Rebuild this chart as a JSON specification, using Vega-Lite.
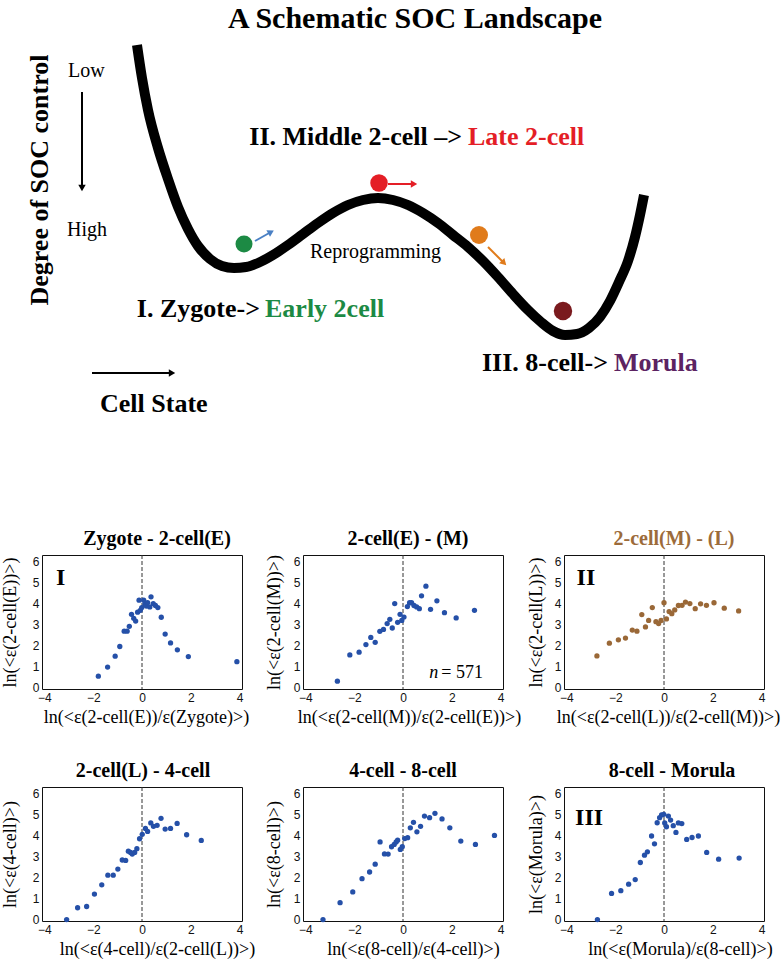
{
  "$schema": "https://vega.github.io/schema/vega-lite/v6.json",
  "padding": 0,
  "background": "white",
  "spacing": 33,
  "config": {
    "view": {"stroke": "#111", "strokeWidth": 1},
    "title": {"font": "Liberation Serif", "fontSize": 20, "fontWeight": "bold", "color": "#000", "baseline": "bottom", "offset": 6, "anchor": "middle"},
    "axis": {"grid": false, "domain": false, "ticks": false, "labelPadding": 3, "labelFont": "Liberation Sans", "labelFontSize": 12, "labelColor": "#111", "titleFont": "Liberation Serif", "titleFontSize": 18, "titleFontWeight": "normal", "titleColor": "#000", "labelFlush": false, "labelOverlap": false},
    "axisX": {"titlePadding": 5},
    "axisY": {"titlePadding": 10, "labelOverlap": false}
  },
  "datasets": {
    "p1": [{"x":-1.79,"y":0.54},{"x":-1.41,"y":0.97},{"x":-1.10,"y":1.49},{"x":-0.91,"y":1.95},{"x":-0.73,"y":2.68},{"x":-0.61,"y":2.68},{"x":-0.52,"y":2.91},{"x":-0.43,"y":3.48},{"x":-0.34,"y":3.29},{"x":-0.26,"y":3.16},{"x":-0.18,"y":3.58},{"x":-0.12,"y":4.15},{"x":-0.07,"y":3.67},{"x":-0.01,"y":3.80},{"x":0.07,"y":4.15},{"x":0.12,"y":3.96},{"x":0.18,"y":3.87},{"x":0.23,"y":4.04},{"x":0.32,"y":3.83},{"x":0.37,"y":4.31},{"x":0.46,"y":3.99},{"x":0.55,"y":3.90},{"x":0.65,"y":3.80},{"x":0.79,"y":3.34},{"x":0.95,"y":2.54},{"x":1.17,"y":2.12},{"x":1.45,"y":1.79},{"x":1.90,"y":1.47},{"x":3.89,"y":1.23}],
    "p2": [{"x":-2.69,"y":0.30},{"x":-2.18,"y":1.55},{"x":-1.80,"y":1.68},{"x":-1.52,"y":2.04},{"x":-1.32,"y":2.38},{"x":-1.14,"y":2.15},{"x":-0.95,"y":2.67},{"x":-0.80,"y":2.76},{"x":-0.65,"y":3.04},{"x":-0.54,"y":3.24},{"x":-0.44,"y":2.83},{"x":-0.34,"y":3.99},{"x":-0.22,"y":3.10},{"x":-0.12,"y":3.48},{"x":-0.05,"y":3.19},{"x":0.04,"y":3.35},{"x":0.18,"y":3.85},{"x":0.27,"y":4.03},{"x":0.35,"y":4.03},{"x":0.45,"y":3.90},{"x":0.56,"y":3.83},{"x":0.67,"y":3.75},{"x":0.76,"y":4.36},{"x":0.94,"y":4.82},{"x":1.13,"y":3.72},{"x":1.39,"y":4.12},{"x":1.70,"y":3.56},{"x":2.18,"y":3.31},{"x":2.93,"y":3.67}],
    "p3": [{"x":-2.75,"y":1.50},{"x":-2.24,"y":2.11},{"x":-1.87,"y":2.27},{"x":-1.58,"y":2.35},{"x":-1.30,"y":2.73},{"x":-1.11,"y":2.68},{"x":-0.91,"y":3.47},{"x":-0.76,"y":2.88},{"x":-0.63,"y":3.19},{"x":-0.48,"y":3.80},{"x":-0.33,"y":3.13},{"x":-0.22,"y":3.04},{"x":-0.12,"y":3.19},{"x":0.00,"y":4.03},{"x":0.10,"y":3.26},{"x":0.21,"y":3.61},{"x":0.32,"y":3.51},{"x":0.44,"y":3.69},{"x":0.59,"y":3.90},{"x":0.74,"y":3.91},{"x":0.88,"y":4.06},{"x":1.06,"y":3.99},{"x":1.28,"y":3.75},{"x":1.50,"y":3.98},{"x":1.74,"y":3.91},{"x":2.05,"y":4.03},{"x":2.47,"y":3.77},{"x":3.06,"y":3.64}],
    "p4": [{"x":-3.09,"y":0.0},{"x":-2.64,"y":0.56},{"x":-2.27,"y":0.62},{"x":-1.95,"y":1.21},{"x":-1.65,"y":1.65},{"x":-1.40,"y":2.11},{"x":-1.18,"y":2.11},{"x":-0.99,"y":2.40},{"x":-0.81,"y":2.83},{"x":-0.67,"y":2.81},{"x":-0.56,"y":3.25},{"x":-0.47,"y":3.19},{"x":-0.40,"y":3.11},{"x":-0.30,"y":3.19},{"x":-0.21,"y":3.37},{"x":-0.10,"y":3.84},{"x":0.01,"y":4.05},{"x":0.14,"y":4.33},{"x":0.23,"y":4.19},{"x":0.36,"y":4.59},{"x":0.47,"y":4.43},{"x":0.62,"y":4.48},{"x":0.78,"y":4.81},{"x":0.95,"y":4.30},{"x":1.17,"y":4.33},{"x":1.44,"y":4.57},{"x":1.83,"y":4.03},{"x":2.43,"y":3.76}],
    "p5": [{"x":-3.28,"y":0.0},{"x":-2.58,"y":0.80},{"x":-2.06,"y":1.31},{"x":-1.68,"y":1.94},{"x":-1.37,"y":2.26},{"x":-1.14,"y":2.63},{"x":-0.94,"y":3.69},{"x":-0.76,"y":3.12},{"x":-0.61,"y":3.11},{"x":-0.47,"y":3.46},{"x":-0.36,"y":3.57},{"x":-0.28,"y":3.69},{"x":-0.22,"y":3.77},{"x":-0.11,"y":3.33},{"x":-0.03,"y":3.46},{"x":0.07,"y":3.85},{"x":0.19,"y":3.89},{"x":0.30,"y":4.36},{"x":0.43,"y":4.62},{"x":0.57,"y":4.17},{"x":0.72,"y":4.43},{"x":0.88,"y":4.92},{"x":1.09,"y":4.84},{"x":1.31,"y":5.05},{"x":1.60,"y":4.78},{"x":1.92,"y":4.36},{"x":2.37,"y":3.73},{"x":2.97,"y":3.57},{"x":3.75,"y":4.00}],
    "p6": [{"x":-2.73,"y":0.0},{"x":-2.15,"y":1.24},{"x":-1.77,"y":1.37},{"x":-1.45,"y":1.68},{"x":-1.18,"y":1.90},{"x":-0.97,"y":2.71},{"x":-0.80,"y":3.06},{"x":-0.68,"y":3.22},{"x":-0.51,"y":3.97},{"x":-0.39,"y":3.60},{"x":-0.28,"y":4.60},{"x":-0.18,"y":4.84},{"x":-0.10,"y":4.97},{"x":-0.01,"y":5.00},{"x":0.03,"y":4.59},{"x":0.10,"y":4.41},{"x":0.18,"y":4.92},{"x":0.27,"y":4.73},{"x":0.38,"y":4.46},{"x":0.49,"y":4.14},{"x":0.59,"y":4.59},{"x":0.73,"y":4.56},{"x":0.93,"y":3.81},{"x":1.15,"y":3.90},{"x":1.41,"y":3.97},{"x":1.75,"y":3.19},{"x":2.24,"y":2.87},{"x":3.08,"y":2.92}]
  },
  "vconcat": [
    {
      "width": 739,
      "height": 495,
      "view": {"stroke": null},
      "resolve": {"scale": {"color": "independent", "size": "independent"}},
      "encoding": {
        "x": {"field": "x", "type": "quantitative", "scale": {"domain": [44, 783], "nice": false, "zero": false}, "axis": null},
        "y": {"field": "y", "type": "quantitative", "scale": {"domain": [0, 495], "reverse": true, "nice": false, "zero": false}, "axis": null}
      },
      "layer": [
        {
          "data": {"values": [{"x":139,"y":45},{"x":144,"y":78},{"x":150,"y":110},{"x":160,"y":148},{"x":170,"y":179},{"x":180,"y":207},{"x":190,"y":229},{"x":200,"y":246},{"x":212,"y":259},{"x":224,"y":266},{"x":236,"y":268},{"x":248,"y":267},{"x":260,"y":263},{"x":275,"y":255},{"x":290,"y":245},{"x":305,"y":234},{"x":320,"y":223},{"x":335,"y":213},{"x":350,"y":205},{"x":365,"y":200},{"x":380,"y":198},{"x":395,"y":200},{"x":410,"y":205},{"x":425,"y":213},{"x":440,"y":223},{"x":455,"y":235},{"x":470,"y":247},{"x":485,"y":261},{"x":500,"y":277},{"x":515,"y":294},{"x":530,"y":310},{"x":543,"y":322},{"x":555,"y":331},{"x":567,"y":335},{"x":579,"y":334},{"x":591,"y":328},{"x":602,"y":317},{"x":612,"y":301},{"x":621,"y":282},{"x":630,"y":261},{"x":637,"y":237},{"x":642,"y":215},{"x":646,"y":195}]},
          "mark": {"type": "line", "color": "#000", "strokeWidth": 10, "strokeCap": "butt", "strokeJoin": "round", "interpolate": "monotone"}
        },
        {
          "data": {"values": [{"stage":"Early 2-cell","x":246,"y":244},{"stage":"Late 2-cell","x":381,"y":183},{"stage":"4-cell","x":481,"y":235},{"stage":"Morula","x":565,"y":311}]},
          "mark": {"type": "circle", "opacity": 1},
          "encoding": {
            "color": {"field": "stage", "type": "nominal", "scale": {"domain": ["Early 2-cell","Late 2-cell","4-cell","Morula"], "range": ["#1c8a44","#e41e26","#e07b1b","#7a1a1e"]}, "legend": null},
            "size": {"field": "stage", "type": "nominal", "scale": {"domain": ["Early 2-cell","Late 2-cell","4-cell","Morula"], "range": [290, 340, 330, 280]}, "legend": null}
          }
        },
        {
          "data": {"values": [{"arrow":"I","x":257,"y":241,"x2":273,"y2":232},{"arrow":"II","x":390,"y":184,"x2":416,"y2":184},{"arrow":"II-III","x":490,"y":247,"x2":506,"y2":263},{"arrow":"control","x":84,"y":92,"x2":84,"y2":188},{"arrow":"state","x":94,"y":373,"x2":174,"y2":373}]},
          "mark": {"type": "rule", "strokeWidth": 2},
          "encoding": {
            "x2": {"field": "x2"},
            "y2": {"field": "y2"},
            "color": {"field": "arrow", "type": "nominal", "scale": {"domain": ["I","II","II-III","control","state"], "range": ["#4a80c4","#e41e26","#e07b1b","#000","#000"]}, "legend": null}
          }
        },
        {
          "data": {"values": [{"arrow":"I","x":257,"y":241,"x2":273,"y2":232},{"arrow":"II","x":390,"y":184,"x2":416,"y2":184},{"arrow":"II-III","x":490,"y":247,"x2":506,"y2":263},{"arrow":"control","x":84,"y":92,"x2":84,"y2":188},{"arrow":"state","x":94,"y":373,"x2":174,"y2":373}]},
          "transform": [{"calculate": "atan2(datum.y2 - datum.y, datum.x2 - datum.x) * 180 / PI", "as": "heading"}],
          "mark": {"type": "point", "shape": "triangle-right", "filled": true, "opacity": 1, "size": 55},
          "encoding": {
            "x": {"field": "x2", "type": "quantitative", "scale": {"domain": [44, 783], "nice": false, "zero": false}, "axis": null},
            "y": {"field": "y2", "type": "quantitative", "scale": {"domain": [0, 495], "reverse": true, "nice": false, "zero": false}, "axis": null},
            "angle": {"field": "heading", "type": "quantitative", "scale": null},
            "color": {"field": "arrow", "type": "nominal", "scale": {"domain": ["I","II","II-III","control","state"], "range": ["#4a80c4","#e41e26","#e07b1b","#000","#000"]}, "legend": null}
          }
        },
        {
          "data": {"values": [{"label":"A Schematic SOC Landscape","x":417,"y":19}]},
          "mark": {"type": "text", "font": "Liberation Serif", "fontWeight": "bold", "fontSize": 30, "align": "center", "baseline": "middle", "color": "#000"},
          "encoding": {"text": {"field": "label"}}
        },
        {
          "data": {"values": [{"label":"Degree of SOC control","x":42,"y":180}]},
          "mark": {"type": "text", "font": "Liberation Serif", "fontWeight": "bold", "fontSize": 26, "align": "center", "baseline": "middle", "angle": 270, "color": "#000"},
          "encoding": {"text": {"field": "label"}}
        },
        {
          "data": {"values": [{"label":"Low","x":70,"y":71},{"label":"High","x":69,"y":230},{"label":"Reprogramming","x":312,"y":252}]},
          "mark": {"type": "text", "font": "Liberation Serif", "fontSize": 20, "align": "left", "baseline": "middle", "color": "#000"},
          "encoding": {"text": {"field": "label"}}
        },
        {
          "data": {"values": [{"label":"II. Middle 2-cell –>","x":464,"y":137},{"label":"I. Zygote->","x":262,"y":309},{"label":"III. 8-cell->","x":610,"y":363}]},
          "mark": {"type": "text", "font": "Liberation Serif", "fontWeight": "bold", "fontSize": 26, "align": "right", "baseline": "middle", "color": "#000"},
          "encoding": {"text": {"field": "label"}}
        },
        {
          "data": {"values": [{"label":"Late 2-cell","phase":"II","x":470,"y":137},{"label":"Early 2cell","phase":"I","x":267,"y":309},{"label":"Morula","phase":"III","x":616,"y":363}]},
          "mark": {"type": "text", "font": "Liberation Serif", "fontWeight": "bold", "fontSize": 26, "align": "left", "baseline": "middle"},
          "encoding": {
            "text": {"field": "label"},
            "color": {"field": "phase", "type": "nominal", "scale": {"domain": ["I","II","III"], "range": ["#1c8a44","#e41e26","#5c2362"]}, "legend": null}
          }
        },
        {
          "data": {"values": [{"label":"Cell State","x":102,"y":404}]},
          "mark": {"type": "text", "font": "Liberation Serif", "fontWeight": "bold", "fontSize": 26, "align": "left", "baseline": "middle", "color": "#000"},
          "encoding": {"text": {"field": "label"}}
        }
      ]
    },
    {
      "bounds": "flush",
      "spacing": 61,
      "hconcat": [
        {
          "width": 200, "height": 134,
          "title": {"text": "Zygote - 2-cell(E)", "dx": 15},
          "layer": [
            {"data": {"values": [{"x": 0}]}, "mark": {"type": "rule", "strokeDash": [4, 2], "color": "#333", "strokeWidth": 1},
             "encoding": {"x": {"field": "x", "type": "quantitative", "scale": {"domain": [-4.1, 4.1], "nice": false, "zero": false}, "title": "ln(<ε(2-cell(E))/ε(Zygote)>)", "axis": {"values": [-4, -2, 0, 2, 4], "titleX": 104}}}},
            {"data": {"name": "p1"}, "mark": {"type": "circle", "size": 28, "color": "#2550a8", "opacity": 1},
             "encoding": {"x": {"field": "x", "type": "quantitative", "scale": {"domain": [-4.1, 4.1], "nice": false, "zero": false}, "title": "ln(<ε(2-cell(E))/ε(Zygote)>)", "axis": {"values": [-4, -2, 0, 2, 4], "titleX": 104}},
                          "y": {"field": "y", "type": "quantitative", "scale": {"domain": [-0.07, 6.3], "nice": false, "zero": false}, "title": "ln(<ε(2-cell(E))>)", "axis": {"values": [0, 1, 2, 3, 4, 5, 6], "labelOverlap": false, "titlePadding": 13}}}},
            {"data": {"values": [{"x": -3.33, "y": 5.21, "label": "I"}]}, "mark": {"type": "text", "font": "Liberation Serif", "fontWeight": "bold", "fontSize": 24, "color": "#000", "baseline": "middle"},
             "encoding": {"x": {"field": "x", "type": "quantitative", "title": "ln(<ε(2-cell(E))/ε(Zygote)>)", "axis": {"values": [-4, -2, 0, 2, 4], "titleX": 104}}, "y": {"field": "y", "type": "quantitative", "title": "ln(<ε(2-cell(E))>)", "axis": {"values": [0, 1, 2, 3, 4, 5, 6], "labelOverlap": false, "titlePadding": 13}}, "text": {"field": "label"}}}
          ]
        },
        {
          "width": 200, "height": 134,
          "title": {"text": "2-cell(E) - (M)", "dx": 5},
          "layer": [
            {"data": {"values": [{"x": 0}]}, "mark": {"type": "rule", "strokeDash": [4, 2], "color": "#333", "strokeWidth": 1},
             "encoding": {"x": {"field": "x", "type": "quantitative", "scale": {"domain": [-4.1, 4.1], "nice": false, "zero": false}, "title": "ln(<ε(2-cell(M))/ε(2-cell(E))>)", "axis": {"values": [-4, -2, 0, 2, 4], "titleX": 106}}}},
            {"data": {"name": "p2"}, "mark": {"type": "circle", "size": 28, "color": "#2550a8", "opacity": 1},
             "encoding": {"x": {"field": "x", "type": "quantitative", "scale": {"domain": [-4.1, 4.1], "nice": false, "zero": false}, "title": "ln(<ε(2-cell(M))/ε(2-cell(E))>)", "axis": {"values": [-4, -2, 0, 2, 4], "titleX": 106}},
                          "y": {"field": "y", "type": "quantitative", "scale": {"domain": [-0.07, 6.3], "nice": false, "zero": false}, "title": "ln(<ε(2-cell(M))>)", "axis": {"values": [0, 1, 2, 3, 4, 5, 6], "labelOverlap": false, "titlePadding": 10}}}},
            {"data": {"values": [{"x": 1.45, "y": 0.7, "label": "n"}]}, "mark": {"type": "text", "font": "Liberation Serif", "fontStyle": "italic", "fontSize": 18, "color": "#000", "align": "right", "baseline": "middle"},
             "encoding": {"x": {"field": "x", "type": "quantitative", "title": "ln(<ε(2-cell(M))/ε(2-cell(E))>)", "axis": {"values": [-4, -2, 0, 2, 4], "titleX": 106}}, "y": {"field": "y", "type": "quantitative", "title": "ln(<ε(2-cell(M))>)", "axis": {"values": [0, 1, 2, 3, 4, 5, 6], "labelOverlap": false, "titlePadding": 10}}, "text": {"field": "label"}}},
            {"data": {"values": [{"x": 1.57, "y": 0.7, "label": "= 571"}]}, "mark": {"type": "text", "font": "Liberation Serif", "fontSize": 18, "color": "#000", "align": "left", "baseline": "middle"},
             "encoding": {"x": {"field": "x", "type": "quantitative", "title": "ln(<ε(2-cell(M))/ε(2-cell(E))>)", "axis": {"values": [-4, -2, 0, 2, 4], "titleX": 106}}, "y": {"field": "y", "type": "quantitative", "title": "ln(<ε(2-cell(M))>)", "axis": {"values": [0, 1, 2, 3, 4, 5, 6], "labelOverlap": false, "titlePadding": 10}}, "text": {"field": "label"}}}
          ]
        },
        {
          "width": 200, "height": 134,
          "title": {"text": "2-cell(M) - (L)", "dx": 10, "color": "#9c6b3a"},
          "layer": [
            {"data": {"values": [{"x": 0}]}, "mark": {"type": "rule", "strokeDash": [4, 2], "color": "#333", "strokeWidth": 1},
             "encoding": {"x": {"field": "x", "type": "quantitative", "scale": {"domain": [-4.1, 4.1], "nice": false, "zero": false}, "title": "ln(<ε(2-cell(L))/ε(2-cell(M))>)", "axis": {"values": [-4, -2, 0, 2, 4], "titleX": 104}}}},
            {"data": {"name": "p3"}, "mark": {"type": "circle", "size": 28, "color": "#9a6837", "opacity": 1},
             "encoding": {"x": {"field": "x", "type": "quantitative", "scale": {"domain": [-4.1, 4.1], "nice": false, "zero": false}, "title": "ln(<ε(2-cell(L))/ε(2-cell(M))>)", "axis": {"values": [-4, -2, 0, 2, 4], "titleX": 104}},
                          "y": {"field": "y", "type": "quantitative", "scale": {"domain": [-0.07, 6.3], "nice": false, "zero": false}, "title": "ln(<ε(2-cell(L))>)", "axis": {"values": [0, 1, 2, 3, 4, 5, 6], "labelOverlap": false, "titlePadding": 9}}}},
            {"data": {"values": [{"x": -3.2, "y": 5.21, "label": "II"}]}, "mark": {"type": "text", "font": "Liberation Serif", "fontWeight": "bold", "fontSize": 24, "color": "#000", "baseline": "middle"},
             "encoding": {"x": {"field": "x", "type": "quantitative", "title": "ln(<ε(2-cell(L))/ε(2-cell(M))>)", "axis": {"values": [-4, -2, 0, 2, 4], "titleX": 104}}, "y": {"field": "y", "type": "quantitative", "title": "ln(<ε(2-cell(L))>)", "axis": {"values": [0, 1, 2, 3, 4, 5, 6], "labelOverlap": false, "titlePadding": 9}}, "text": {"field": "label"}}}
          ]
        }
      ]
    },
    {
      "bounds": "flush",
      "spacing": 61,
      "hconcat": [
        {
          "width": 200, "height": 134,
          "title": {"text": "2-cell(L) - 4-cell", "dx": 1},
          "layer": [
            {"data": {"values": [{"x": 0}]}, "mark": {"type": "rule", "strokeDash": [4, 2], "color": "#333", "strokeWidth": 1},
             "encoding": {"x": {"field": "x", "type": "quantitative", "scale": {"domain": [-4.1, 4.1], "nice": false, "zero": false}, "title": "ln(<ε(4-cell)/ε(2-cell(L))>)", "axis": {"values": [-4, -2, 0, 2, 4], "titleX": 115}}}},
            {"data": {"name": "p4"}, "mark": {"type": "circle", "size": 28, "color": "#2550a8", "opacity": 1},
             "encoding": {"x": {"field": "x", "type": "quantitative", "scale": {"domain": [-4.1, 4.1], "nice": false, "zero": false}, "title": "ln(<ε(4-cell)/ε(2-cell(L))>)", "axis": {"values": [-4, -2, 0, 2, 4], "titleX": 115}},
                          "y": {"field": "y", "type": "quantitative", "scale": {"domain": [-0.07, 6.3], "nice": false, "zero": false}, "title": "ln(<ε(4-cell)>)", "axis": {"values": [0, 1, 2, 3, 4, 5, 6], "labelOverlap": false, "titlePadding": 13}}}}
          ]
        },
        {
          "width": 200, "height": 134,
          "title": {"text": "4-cell - 8-cell", "dx": 0},
          "layer": [
            {"data": {"values": [{"x": 0}]}, "mark": {"type": "rule", "strokeDash": [4, 2], "color": "#333", "strokeWidth": 1},
             "encoding": {"x": {"field": "x", "type": "quantitative", "scale": {"domain": [-4.1, 4.1], "nice": false, "zero": false}, "title": "ln(<ε(8-cell)/ε(4-cell)>)", "axis": {"values": [-4, -2, 0, 2, 4], "titleX": 110}}}},
            {"data": {"name": "p5"}, "mark": {"type": "circle", "size": 28, "color": "#2550a8", "opacity": 1},
             "encoding": {"x": {"field": "x", "type": "quantitative", "scale": {"domain": [-4.1, 4.1], "nice": false, "zero": false}, "title": "ln(<ε(8-cell)/ε(4-cell)>)", "axis": {"values": [-4, -2, 0, 2, 4], "titleX": 110}},
                          "y": {"field": "y", "type": "quantitative", "scale": {"domain": [-0.07, 6.3], "nice": false, "zero": false}, "title": "ln(<ε(8-cell)>)", "axis": {"values": [0, 1, 2, 3, 4, 5, 6], "labelOverlap": false, "titlePadding": 10}}}}
          ]
        },
        {
          "width": 200, "height": 134,
          "title": {"text": "8-cell - Morula", "dx": 8},
          "layer": [
            {"data": {"values": [{"x": 0}]}, "mark": {"type": "rule", "strokeDash": [4, 2], "color": "#333", "strokeWidth": 1},
             "encoding": {"x": {"field": "x", "type": "quantitative", "scale": {"domain": [-4.1, 4.1], "nice": false, "zero": false}, "title": "ln(<ε(Morula)/ε(8-cell)>)", "axis": {"values": [-4, -2, 0, 2, 4], "titleX": 116}}}},
            {"data": {"name": "p6"}, "mark": {"type": "circle", "size": 28, "color": "#2550a8", "opacity": 1},
             "encoding": {"x": {"field": "x", "type": "quantitative", "scale": {"domain": [-4.1, 4.1], "nice": false, "zero": false}, "title": "ln(<ε(Morula)/ε(8-cell)>)", "axis": {"values": [-4, -2, 0, 2, 4], "titleX": 116}},
                          "y": {"field": "y", "type": "quantitative", "scale": {"domain": [-0.07, 6.3], "nice": false, "zero": false}, "title": "ln(<ε(Morula)>)", "axis": {"values": [0, 1, 2, 3, 4, 5, 6], "labelOverlap": false, "titlePadding": 9}}}},
            {"data": {"values": [{"x": -3.07, "y": 4.84, "label": "III"}]}, "mark": {"type": "text", "font": "Liberation Serif", "fontWeight": "bold", "fontSize": 24, "color": "#000", "baseline": "middle"},
             "encoding": {"x": {"field": "x", "type": "quantitative", "title": "ln(<ε(Morula)/ε(8-cell)>)", "axis": {"values": [-4, -2, 0, 2, 4], "titleX": 116}}, "y": {"field": "y", "type": "quantitative", "title": "ln(<ε(Morula)>)", "axis": {"values": [0, 1, 2, 3, 4, 5, 6], "labelOverlap": false, "titlePadding": 9}}, "text": {"field": "label"}}}
          ]
        }
      ]
    }
  ]
}
